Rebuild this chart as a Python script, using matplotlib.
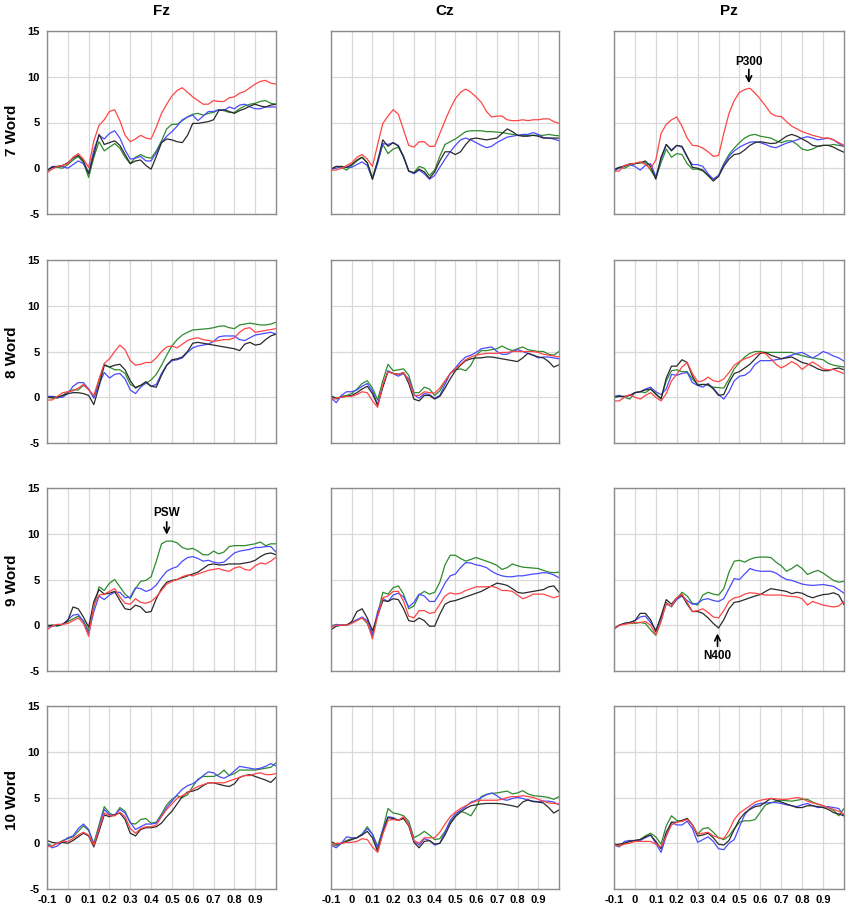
import matplotlib
matplotlib.use('Agg')
import matplotlib.pyplot as plt

plt.rcParams['font.family'] = ['Liberation Sans', 'DejaVu Sans']

# ---------------- data ----------------
times = [-0.1, -0.075, -0.05, -0.025, 0.0, 0.025, 0.05, 0.075, 0.1, 0.125,
         0.15, 0.175, 0.2, 0.225, 0.25, 0.275, 0.3, 0.325, 0.35, 0.375,
         0.4, 0.425, 0.45, 0.475, 0.5, 0.525, 0.55, 0.575, 0.6, 0.625,
         0.65, 0.675, 0.7, 0.725, 0.75, 0.775, 0.8, 0.825, 0.85, 0.875,
         0.9, 0.925, 0.95, 0.975, 1.0]

electrodes = ['Fz', 'Cz', 'Pz']
conditions = ['7 Word', '8 Word', '9 Word', '10 Word']
x_ticks = [-0.1, 0, 0.1, 0.2, 0.3, 0.4, 0.5, 0.6, 0.7, 0.8, 0.9]
x_tick_labels = ['-0.1', '0', '0.1', '0.2', '0.3', '0.4', '0.5', '0.6', '0.7', '0.8', '0.9']
y_ticks = [-5, 0, 5, 10, 15]

# ---- 7 Word ----
fz7_red = [-0.5, -0.1, 0.2, 0.3, 0.5, 1.2, 1.6, 1.0, 0.1, 3.0, 4.7, 5.3, 6.2, 6.4, 5.2, 3.6, 2.9, 3.2, 3.6, 3.3, 3.2, 4.5, 6.0, 7.0, 7.9, 8.5, 8.8, 8.3, 7.8, 7.4, 7.0, 7.0, 7.4, 7.3, 7.3, 7.7, 7.8, 8.2, 8.4, 8.8, 9.2, 9.5, 9.6, 9.3, 9.2]
fz7_blue = [-0.3, 0.2, 0.2, 0.2, 0.0, 0.4, 0.8, 0.5, -0.5, 2.0, 3.6, 3.2, 3.8, 4.1, 3.3, 2.0, 1.0, 1.1, 1.3, 0.8, 0.8, 1.7, 2.8, 3.5, 4.0, 4.6, 5.3, 5.6, 5.8, 5.2, 5.7, 6.2, 6.2, 6.4, 6.3, 6.7, 6.5, 6.9, 7.0, 6.7, 6.5, 6.5, 6.7, 6.7, 6.7]
fz7_green = [-0.3, 0.1, 0.1, 0.0, 0.4, 0.9, 1.3, 0.6, -1.0, 1.2, 2.9, 1.9, 2.3, 2.7, 2.2, 1.2, 0.5, 1.2, 1.5, 1.2, 1.1, 1.9, 3.0, 4.3, 4.8, 4.8, 5.2, 5.6, 5.9, 6.0, 5.8, 6.0, 6.1, 6.4, 6.3, 6.1, 6.1, 6.5, 6.8, 7.0, 7.1, 7.3, 7.4, 7.1, 7.0]
fz7_black = [-0.2, 0.1, 0.2, 0.3, 0.6, 1.1, 1.4, 0.8, -0.6, 1.5, 3.7, 2.6, 2.8, 3.0, 2.5, 1.5, 0.5, 0.8, 0.9, 0.3, -0.1, 1.3, 2.8, 3.2, 3.1, 2.9, 2.8, 3.6, 4.9, 4.9, 5.0, 5.1, 5.3, 6.3, 6.4, 6.2, 6.0, 6.3, 6.5, 6.8, 7.0, 6.8, 6.7, 6.9, 7.0]

cz7_red = [-0.2, -0.2, 0.0, 0.3, 0.6, 1.2, 1.5, 1.0, 0.2, 2.6, 4.9, 5.7, 6.4, 5.9, 4.2, 2.5, 2.3, 2.9, 2.9, 2.4, 2.4, 3.8, 5.2, 6.5, 7.6, 8.3, 8.65, 8.3, 7.8, 7.2, 6.2, 5.6, 5.7, 5.7, 5.3, 5.2, 5.2, 5.3, 5.2, 5.3, 5.3, 5.4, 5.4, 5.1, 4.9]
cz7_blue = [-0.1, 0.0, 0.2, 0.1, 0.1, 0.4, 0.7, 0.3, -1.2, 0.5, 2.7, 2.6, 2.8, 2.5, 1.3, -0.3, -0.6, -0.2, -0.6, -1.2, -0.8, 0.1, 1.0, 1.8, 2.5, 3.1, 3.3, 3.1, 2.8, 2.5, 2.25, 2.4, 2.8, 3.1, 3.4, 3.5, 3.6, 3.7, 3.7, 3.9, 3.7, 3.35, 3.3, 3.2, 3.0]
cz7_green = [-0.1, 0.2, 0.1, -0.2, 0.3, 0.8, 1.2, 0.6, -1.0, 0.8, 2.6, 1.6, 2.1, 2.3, 1.3, -0.3, -0.5, 0.2, 0.0, -0.8, -0.2, 1.3, 2.6, 2.9, 3.2, 3.6, 4.0, 4.1, 4.1, 4.1, 4.0, 4.0, 3.95, 3.9, 3.8, 3.7, 3.6, 3.6, 3.6, 3.6, 3.6, 3.6, 3.7, 3.6, 3.55]
cz7_black = [-0.1, 0.2, 0.2, 0.1, 0.4, 0.9, 1.2, 0.6, -1.2, 0.8, 3.1, 2.4, 2.8, 2.4, 1.2, -0.3, -0.5, -0.1, -0.4, -1.1, -0.4, 0.8, 1.8, 1.8, 1.5, 1.8, 2.6, 3.2, 3.3, 3.2, 3.1, 3.2, 3.3, 3.8, 4.3, 4.0, 3.6, 3.5, 3.5, 3.6, 3.5, 3.3, 3.3, 3.3, 3.3]

pz7_red = [-0.35, -0.3, 0.3, 0.45, 0.55, 0.7, 0.4, -0.05, 0.9, 3.8, 4.8, 5.3, 5.6, 4.6, 3.3, 2.5, 2.45, 2.2, 1.8, 1.3, 1.4, 3.8, 6.0, 7.4, 8.3, 8.6, 8.75, 8.2, 7.55, 6.8, 6.0, 5.7, 5.65, 5.1, 4.6, 4.3, 4.0, 3.8, 3.6, 3.45, 3.3, 3.3, 3.1, 2.8, 2.5]
pz7_blue = [-0.3, 0.0, 0.3, 0.4, 0.2, -0.2, 0.3, 0.5, -0.9, 1.0, 2.6, 2.0, 2.5, 2.3, 1.2, 0.4, 0.4, 0.2, -0.6, -1.2, -0.8, 0.4, 1.3, 1.9, 2.3, 2.6, 2.85, 2.9, 2.8, 2.6, 2.35, 2.25, 2.5, 2.75, 2.9, 3.1, 3.3, 3.45, 3.3, 3.1, 3.2, 3.3, 3.1, 2.7, 2.4]
pz7_green = [-0.1, 0.1, 0.0, 0.3, 0.5, 0.6, 0.6, -0.2, -1.1, 0.6, 2.1, 1.2, 1.6, 1.5, 0.5, -0.1, -0.1, -0.3, -0.8, -1.2, -0.8, 0.5, 1.5, 2.2, 2.8, 3.3, 3.6, 3.7, 3.5, 3.4, 3.3, 3.0, 2.8, 3.0, 3.0, 2.6, 2.1, 1.95, 2.1, 2.4, 2.5, 2.5, 2.6, 2.5, 2.4]
pz7_black = [-0.2, 0.1, 0.2, 0.5, 0.5, 0.6, 0.8, 0.2, -1.2, 1.2, 2.6, 1.9, 2.5, 2.4, 1.3, 0.1, 0.0, -0.2, -0.8, -1.4, -0.9, 0.2, 1.0, 1.5, 1.6, 2.0, 2.5, 2.8, 2.9, 2.8, 2.7, 2.75, 3.1, 3.5, 3.7, 3.5, 3.2, 2.9, 2.5, 2.4, 2.5, 2.5, 2.3, 2.0, 1.75]

# ---- 8 Word ----
fz8_red = [-0.3, -0.3, 0.1, 0.5, 0.6, 0.7, 1.0, 1.4, 0.8, 0.2, 2.0, 3.7, 4.2, 5.0, 5.7, 5.2, 4.0, 3.5, 3.6, 3.8, 3.8, 4.3, 5.0, 5.5, 5.6, 5.4, 5.8, 6.2, 6.4, 6.5, 6.3, 6.2, 6.1, 6.2, 6.3, 6.3, 6.5, 7.1, 7.5, 7.6, 7.1, 7.2, 7.3, 7.4, 7.5]
fz8_blue = [0.1, 0.1, 0.0, 0.0, 0.4, 1.2, 1.6, 1.6, 0.9, -0.1, 1.4, 2.7, 2.1, 2.5, 2.6, 2.0, 0.8, 0.4, 1.1, 1.6, 1.2, 1.4, 2.6, 3.5, 4.0, 4.1, 4.3, 4.9, 5.4, 5.6, 5.7, 5.8, 6.1, 6.6, 6.7, 6.7, 6.7, 6.3, 6.2, 6.5, 6.8, 6.9, 7.0, 7.1, 6.9]
fz8_green = [0.0, -0.1, -0.1, 0.2, 0.6, 0.8, 0.8, 1.3, 0.9, 0.0, 1.8, 3.6, 3.3, 3.0, 3.0, 2.6, 1.4, 1.1, 1.3, 1.5, 1.9, 2.5, 3.5, 4.6, 5.6, 6.3, 6.8, 7.1, 7.35, 7.4, 7.45, 7.5, 7.6, 7.75, 7.8, 7.6, 7.5, 7.9, 8.0, 8.1, 8.0, 7.9, 7.9, 8.0, 8.2]
fz8_black = [0.0, 0.0, 0.0, 0.2, 0.4, 0.5, 0.5, 0.4, 0.2, -0.8, 1.2, 3.5, 3.3, 3.5, 3.6, 3.0, 1.8, 1.0, 1.3, 1.7, 1.2, 1.1, 2.4, 3.5, 4.1, 4.2, 4.4, 5.0, 5.9, 6.0, 5.9, 5.8, 5.7, 5.6, 5.5, 5.4, 5.3, 5.1, 5.8, 6.0, 5.7, 5.8, 6.3, 6.7, 6.9]

cz8_red = [-0.35, -0.1, 0.0, 0.1, 0.1, 0.3, 0.6, 0.5, -0.4, -1.1, 1.4, 2.8, 2.6, 2.5, 2.7, 1.8, 0.2, 0.2, 0.6, 0.5, 0.45, 1.0, 1.8, 2.6, 3.1, 3.6, 4.1, 4.4, 4.6, 4.7, 4.8, 4.8, 4.8, 4.9, 4.9, 5.0, 5.0, 5.0, 5.0, 5.0, 4.9, 4.7, 4.6, 4.5, 4.4]
cz8_blue = [0.0, -0.6, 0.2, 0.6, 0.6, 0.8, 1.2, 1.5, 0.7, -0.8, 1.2, 2.9, 2.6, 2.3, 2.6, 2.0, 0.3, -0.1, 0.4, 0.3, -0.1, 0.2, 1.4, 2.6, 3.2, 3.9, 4.4, 4.6, 4.9, 5.3, 5.4, 5.5, 5.0, 4.7, 4.7, 5.0, 5.2, 5.0, 4.8, 4.6, 4.3, 4.4, 4.4, 4.3, 4.2]
cz8_green = [0.2, -0.2, 0.1, 0.2, 0.4, 0.9, 1.5, 1.8, 1.0, -0.3, 1.8, 3.6, 2.9, 3.0, 3.1, 2.4, 0.5, 0.5, 1.1, 0.9, 0.2, 0.7, 1.7, 2.6, 3.0, 3.1, 2.9, 3.5, 4.6, 5.1, 5.1, 5.2, 5.3, 5.6, 5.3, 5.1, 5.3, 5.5, 5.2, 5.1, 5.0, 5.0, 4.7, 4.6, 5.0]
cz8_black = [0.1, -0.1, 0.0, 0.1, 0.2, 0.5, 0.9, 1.2, 0.4, -0.9, 1.1, 2.8, 2.6, 2.5, 2.7, 1.5, -0.2, -0.4, 0.2, 0.2, -0.2, 0.1, 1.0, 2.0, 2.9, 3.5, 4.0, 4.2, 4.3, 4.3, 4.4, 4.4, 4.3, 4.2, 4.1, 4.0, 3.9, 4.3, 4.8, 4.6, 4.4, 4.3, 3.9, 3.3, 3.55]

pz8_red = [-0.4, -0.4, 0.0, 0.3, 0.0, -0.2, 0.2, 0.5, 0.0, -0.4, 0.4, 1.8, 2.5, 3.3, 3.8, 2.6, 1.7, 1.8, 2.2, 1.8, 1.7, 2.0, 2.7, 3.5, 3.9, 4.2, 4.4, 4.7, 4.9, 4.75, 4.2, 3.6, 3.2, 3.5, 3.9, 3.6, 3.05, 3.5, 3.85, 3.5, 3.1, 3.0, 3.05, 2.8, 2.6]
pz8_blue = [0.1, 0.2, 0.0, 0.2, 0.5, 0.6, 0.9, 1.1, 0.6, 0.3, 0.9, 2.5, 2.4, 2.6, 2.7, 1.6, 1.3, 1.1, 1.5, 1.0, 0.3, -0.2, 0.6, 1.8, 2.3, 2.4, 2.8, 3.6, 4.0, 4.0, 4.0, 4.1, 4.2, 4.4, 4.6, 4.8, 4.9, 4.6, 4.3, 4.6, 5.0, 4.8, 4.5, 4.3, 3.95]
pz8_green = [0.0, 0.1, 0.0, -0.2, 0.5, 0.6, 0.5, 0.9, 0.3, -0.1, 1.8, 2.9, 3.0, 2.8, 2.8, 2.0, 1.4, 1.4, 1.3, 1.1, 1.05, 1.0, 2.0, 3.1, 3.8, 4.4, 4.8, 5.0, 5.0, 4.9, 4.9, 4.9, 4.9, 4.9, 4.9, 4.7, 4.55, 4.4, 4.3, 4.2, 4.1, 3.7, 3.5, 3.4, 3.3]
pz8_black = [0.0, 0.1, 0.1, 0.2, 0.5, 0.6, 0.8, 0.9, 0.4, -0.2, 2.1, 3.4, 3.4, 4.1, 3.8, 2.3, 1.3, 1.4, 1.4, 0.9, 0.2, 0.3, 1.6, 2.6, 2.8, 3.2, 3.6, 4.2, 4.8, 4.9, 4.6, 4.4, 4.2, 4.3, 4.4, 4.1, 3.8, 3.65, 3.4, 3.1, 2.9, 2.9, 3.1, 3.2, 3.0]

# ---- 9 Word ----
fz9_red = [-0.5, -0.1, 0.1, 0.1, 0.2, 0.5, 0.8, 0.2, -1.2, 2.2, 3.3, 3.4, 3.7, 4.0, 3.1, 2.4, 2.3, 2.9, 2.5, 2.4, 2.6, 3.1, 3.8, 4.5, 4.8, 5.0, 5.3, 5.5, 5.4, 5.6, 5.8, 6.0, 6.1, 6.2, 6.0, 5.9, 6.25, 6.4, 6.1, 6.0, 6.5, 6.8, 6.7, 7.0, 7.45]
fz9_blue = [-0.2, -0.1, 0.0, 0.1, 0.6, 1.1, 1.2, 0.4, -0.9, 1.5, 3.2, 2.8, 3.3, 3.6, 3.6, 3.0, 3.1, 4.1, 4.0, 3.7, 3.9, 4.4, 5.2, 5.9, 6.2, 6.4, 7.0, 7.4, 7.5, 7.3, 7.0, 7.1, 6.9, 6.8, 6.9, 7.4, 7.9, 8.1, 8.2, 8.3, 8.5, 8.5, 8.6, 8.6, 8.0]
fz9_green = [0.0, 0.0, -0.1, 0.1, 0.4, 0.7, 1.0, 0.5, -0.6, 2.0, 4.2, 3.8, 4.6, 5.0, 4.2, 3.4, 2.9, 4.0, 4.8, 4.9, 5.3, 7.0, 8.9, 9.2, 9.2, 9.0, 8.5, 8.3, 8.4, 8.1, 7.7, 7.7, 8.1, 7.8, 8.0, 8.6, 8.7, 8.7, 8.7, 8.8, 8.9, 9.1, 8.7, 8.9, 8.9]
fz9_black = [-0.1, 0.0, 0.0, 0.1, 0.5, 2.0, 1.8, 0.9, -0.2, 2.6, 3.9, 3.4, 3.5, 3.7, 2.7, 1.8, 1.7, 2.2, 2.0, 1.4, 1.5, 2.9, 4.0, 4.7, 4.9, 5.0, 5.2, 5.4, 5.6, 5.8, 6.2, 6.6, 6.7, 6.6, 6.6, 6.7, 6.7, 6.7, 6.8, 6.9, 7.1, 7.5, 7.8, 7.9, 7.7]

cz9_red = [-0.2, 0.0, 0.0, 0.0, 0.2, 0.5, 0.8, 0.3, -1.5, 1.0, 3.0, 3.2, 3.7, 3.7, 2.6, 1.0, 0.8, 1.6, 1.6, 1.3, 1.4, 2.3, 3.2, 3.55, 3.4, 3.5, 3.8, 4.0, 4.2, 4.2, 4.2, 4.25, 4.1, 3.8, 3.8, 3.7, 3.3, 2.9, 3.1, 3.4, 3.4, 3.4, 3.2, 3.0, 3.2]
cz9_blue = [-0.2, 0.1, 0.0, 0.0, 0.3, 0.6, 0.9, 0.5, -1.0, 1.5, 2.9, 2.6, 3.3, 3.5, 3.1, 2.0, 2.5, 3.4, 3.2, 2.6, 2.6, 3.5, 4.6, 5.4, 5.6, 6.3, 6.85, 6.8, 6.6, 6.5, 6.3, 5.9, 5.6, 5.4, 5.3, 5.3, 5.4, 5.4, 5.5, 5.6, 5.65, 5.75, 5.7, 5.5, 5.2]
cz9_green = [0.0, 0.0, 0.0, 0.0, 0.3, 0.6, 0.8, 0.2, -1.2, 1.2, 3.6, 3.4, 4.1, 4.3, 3.4, 1.8, 2.1, 3.3, 3.7, 3.4, 3.6, 4.7, 6.6, 7.65, 7.65, 7.3, 7.0, 7.2, 7.4, 7.2, 7.0, 6.8, 6.55, 6.1, 6.3, 6.7, 6.5, 6.35, 6.3, 6.25, 6.2, 6.0, 5.8, 5.75, 5.8]
cz9_black = [-0.5, -0.1, 0.0, 0.0, 0.4, 1.5, 1.8, 0.8, -0.6, 1.0, 2.7, 2.6, 2.9, 2.8, 1.8, 0.5, 0.4, 0.8, 0.5, -0.1, -0.1, 1.2, 2.3, 2.6, 2.7, 2.9, 3.1, 3.3, 3.5, 3.7, 4.0, 4.3, 4.6, 4.5, 4.35, 4.0, 3.6, 3.5, 3.6, 3.7, 3.8, 3.9, 4.2, 4.3, 3.6]

pz9_red = [-0.4, 0.0, 0.1, 0.2, 0.3, 0.3, 0.4, 0.0, -1.0, 0.4, 2.4, 2.1, 3.0, 3.4, 2.5, 1.5, 1.6, 1.8, 1.4, 0.9, 0.8, 1.6, 2.6, 3.0, 3.1, 3.4, 3.55, 3.5, 3.4, 3.3, 3.3, 3.3, 3.3, 3.2, 3.15, 3.1, 2.9, 2.2, 2.6, 2.4, 2.2, 2.1, 2.0, 2.1, 2.6]
pz9_blue = [-0.4, 0.0, 0.2, 0.3, 0.5, 0.9, 1.0, 0.3, -0.5, 0.8, 2.3, 2.1, 2.8, 3.2, 2.7, 2.3, 2.4, 2.8, 2.9, 2.7, 2.6, 2.9, 4.0, 5.1, 5.0, 5.6, 6.2, 6.0, 5.9, 5.9, 5.9, 5.7, 5.3, 5.0, 4.9, 4.7, 4.5, 4.4, 4.35, 4.4, 4.45, 4.35, 4.25, 3.9, 3.5]
pz9_green = [-0.3, 0.0, 0.2, 0.2, 0.2, 0.3, 0.2, -0.5, -1.1, 0.5, 2.5, 2.0, 2.9, 3.6, 3.2, 2.4, 2.2, 3.3, 3.6, 3.4, 3.3, 4.0, 5.8, 7.0, 7.1, 6.9, 7.2, 7.4, 7.45, 7.45, 7.4, 6.9, 6.5, 5.9, 6.2, 6.6, 6.2, 5.55, 5.8, 6.0, 5.7, 5.3, 4.9, 4.7, 4.8]
pz9_black = [-0.4, 0.0, 0.2, 0.3, 0.5, 1.3, 1.3, 0.6, -0.7, 1.0, 2.8, 2.3, 3.0, 3.3, 2.3, 1.5, 1.5, 1.3, 0.8, 0.2, -0.3, 0.6, 1.8, 2.5, 2.6, 2.8, 3.0, 3.2, 3.35, 3.7, 4.0, 3.9, 3.8, 3.7, 3.45, 3.6, 3.5, 3.2, 3.0, 3.2, 3.35, 3.4, 3.55, 3.3, 2.25]

# ---- 10 Word ----
fz10_red = [-0.4, -0.3, 0.0, 0.2, 0.2, 0.5, 0.9, 1.2, 0.9, -0.2, 1.6, 3.3, 3.0, 3.0, 3.4, 2.9, 1.6, 1.1, 1.6, 1.8, 1.8, 2.0, 2.9, 3.7, 4.3, 4.9, 5.2, 5.5, 5.9, 6.2, 6.4, 6.6, 6.6, 6.6, 6.6, 6.8, 7.0, 7.2, 7.4, 7.4, 7.6, 7.7, 7.5, 7.5, 7.6]
fz10_blue = [-0.1, -0.5, -0.3, 0.2, 0.6, 0.8, 1.6, 2.1, 1.5, -0.2, 1.8, 3.7, 3.1, 3.1, 3.7, 3.3, 2.3, 1.5, 1.8, 2.1, 2.1, 2.2, 3.0, 3.9, 4.6, 5.3, 5.9, 6.3, 6.5, 6.9, 7.4, 7.8, 7.7, 7.3, 7.1, 7.4, 7.9, 8.4, 8.3, 8.2, 8.1, 8.2, 8.4, 8.7, 8.45]
fz10_green = [0.0, -0.3, 0.0, 0.3, 0.5, 0.7, 1.3, 1.9, 1.4, 0.0, 2.0, 4.0, 3.3, 3.0, 3.9, 3.5, 2.2, 2.1, 2.6, 2.7, 2.2, 2.3, 3.2, 4.2, 4.8, 5.2, 5.0, 5.3, 6.2, 7.0, 7.3, 7.3, 7.3, 7.5, 8.0, 7.4, 7.6, 8.0, 8.0, 8.0, 8.0, 8.1, 8.2, 8.3, 8.8]
fz10_black = [0.3, 0.1, 0.0, 0.1, 0.0, 0.3, 0.7, 1.1, 0.8, -0.4, 1.3, 3.1, 2.9, 3.1, 3.3, 2.6, 1.1, 0.8, 1.5, 1.7, 1.7, 1.8, 2.2, 2.9, 3.5, 4.3, 5.1, 5.6, 5.7, 5.9, 6.3, 6.6, 6.6, 6.45, 6.3, 6.2, 6.5, 7.2, 7.4, 7.5, 7.3, 7.1, 6.9, 6.65, 7.2]

cz10_red = [-0.3, 0.0, 0.0, 0.1, 0.1, 0.2, 0.5, 0.4, -0.4, -1.0, 1.0, 2.5, 2.6, 2.5, 2.9, 2.0, 0.3, 0.0, 0.6, 0.6, 0.6, 1.2, 2.1, 2.9, 3.4, 3.8, 4.1, 4.4, 4.6, 4.7, 4.7, 4.7, 4.7, 4.8, 5.0, 5.1, 5.1, 5.2, 5.1, 5.0, 4.8, 4.6, 4.4, 4.35, 4.3]
cz10_blue = [-0.2, -0.5, 0.0, 0.7, 0.6, 0.6, 1.0, 1.6, 1.0, -0.6, 1.5, 2.9, 2.8, 2.5, 2.8, 2.1, 0.3, -0.2, 0.5, 0.3, -0.2, 0.0, 1.2, 2.5, 3.2, 3.6, 4.0, 4.5, 4.7, 5.0, 5.3, 5.5, 5.2, 4.8, 4.7, 4.9, 5.0, 4.9, 4.7, 4.6, 4.55, 4.6, 4.6, 4.5, 4.2]
cz10_green = [0.0, -0.3, 0.0, 0.3, 0.5, 0.6, 1.0, 1.8, 1.0, -0.3, 1.5, 3.8, 3.3, 3.2, 3.0, 2.4, 0.6, 0.9, 1.3, 0.9, 0.4, 0.5, 1.3, 2.3, 3.0, 3.5, 3.3, 3.0, 3.9, 5.1, 5.35, 5.45, 5.5, 5.6, 5.7, 5.4, 5.5, 5.75, 5.4, 5.2, 5.15, 5.1, 5.0, 4.8, 5.1]
cz10_black = [0.2, -0.1, 0.0, 0.2, 0.4, 0.6, 0.9, 1.3, 0.6, -0.9, 1.2, 2.8, 2.7, 2.5, 2.7, 1.9, 0.1, -0.5, 0.2, 0.3, -0.1, 0.0, 0.9, 2.1, 2.9, 3.4, 3.8, 4.1, 4.2, 4.3, 4.35, 4.35, 4.35, 4.3, 4.2, 4.1, 3.95, 4.5, 4.75, 4.55, 4.5, 4.4, 3.9, 3.3, 3.65]

pz10_red = [-0.2, -0.3, -0.1, 0.0, 0.2, 0.2, 0.2, 0.2, -0.1, -0.4, 0.8, 2.0, 2.3, 2.4, 2.6, 2.0, 1.0, 1.1, 1.2, 0.8, 0.6, 0.5, 1.4, 2.6, 3.3, 3.7, 4.1, 4.5, 4.7, 4.8, 4.9, 4.85, 4.8, 4.8, 4.9, 5.0, 4.9, 4.6, 4.4, 4.3, 4.1, 3.9, 3.7, 3.5, 3.15]
pz10_blue = [-0.2, -0.4, 0.2, 0.3, 0.3, 0.3, 0.6, 0.9, 0.0, -1.0, 0.8, 2.3, 2.0, 2.0, 2.4, 1.6, 0.1, 0.4, 0.7, 0.2, -0.6, -0.7, 0.0, 0.4, 1.8, 3.1, 3.8, 4.2, 4.35, 4.4, 4.45, 4.45, 4.35, 4.2, 4.1, 4.0, 4.2, 4.35, 4.1, 3.9, 3.95, 4.0, 3.9, 3.8, 3.0]
pz10_green = [0.0, -0.3, 0.0, 0.2, 0.3, 0.4, 0.8, 1.1, 0.7, -0.1, 1.9, 3.0, 2.5, 2.4, 2.7, 2.0, 1.0, 1.6, 1.7, 1.2, 0.6, 0.4, 0.8, 1.6, 2.3, 2.45, 2.45, 2.6, 3.4, 4.2, 4.4, 4.6, 4.7, 4.65, 4.6, 4.7, 4.8, 4.8, 4.5, 4.25, 4.1, 3.9, 3.6, 3.0, 3.8]
pz10_black = [-0.2, -0.1, 0.0, 0.2, 0.3, 0.4, 0.7, 0.9, 0.2, -0.6, 1.2, 2.3, 2.3, 2.5, 2.7, 2.0, 0.8, 0.9, 1.1, 0.6, -0.1, -0.2, 0.3, 1.5, 2.6, 3.3, 3.7, 4.0, 4.1, 4.5, 4.9, 4.7, 4.5, 4.3, 4.1, 3.9, 3.9, 4.1, 4.1, 4.0, 3.9, 3.7, 3.35, 3.2, 3.0]

# panel grid: rows = conditions, columns = electrodes; each: (green, blue, black, red)
panels = [
    [(fz7_green, fz7_blue, fz7_black, fz7_red), (cz7_green, cz7_blue, cz7_black, cz7_red), (pz7_green, pz7_blue, pz7_black, pz7_red)],
    [(fz8_green, fz8_blue, fz8_black, fz8_red), (cz8_green, cz8_blue, cz8_black, cz8_red), (pz8_green, pz8_blue, pz8_black, pz8_red)],
    [(fz9_green, fz9_blue, fz9_black, fz9_red), (cz9_green, cz9_blue, cz9_black, cz9_red), (pz9_green, pz9_blue, pz9_black, pz9_red)],
    [(fz10_green, fz10_blue, fz10_black, fz10_red), (cz10_green, cz10_blue, cz10_black, cz10_red), (pz10_green, pz10_blue, pz10_black, pz10_red)],
]
line_colors = ['#2e8b2e', '#4a4aff', '#2a2a2a', '#ff4545']

# ---------------- figure ----------------
W, H = 850, 907
fig = plt.figure(figsize=(W / 100, H / 100), dpi=100)
fig.patch.set_facecolor('white')

col_px = [(47, 229), (331, 228), (614, 230)]
row_px = [(31, 214), (260, 443), (488, 671), (706, 889)]
row_label_y = [130, 352, 580, 800]

axes = {}
for r in range(4):
    for c in range(3):
        left, w = col_px[c]
        top, bot = row_px[r]
        ax = fig.add_axes([left / W, 1 - bot / H, w / W, (bot - top) / H])
        axes[(r, c)] = ax
        for vals, col in zip(panels[r][c], line_colors):
            n = min(len(vals), len(times))
            ax.plot(times[:n], vals[:n], color=col, lw=0.9)
        ax.set_xlim(-0.1, 1.0)
        ax.set_ylim(-5, 15)
        ax.set_xticks(x_ticks)
        ax.set_yticks(y_ticks)
        ax.grid(True, color='#d9d9d9', lw=0.9)
        ax.set_axisbelow(True)
        for sp in ax.spines.values():
            sp.set_color('#8c8c8c')
            sp.set_linewidth(1.0)
        ax.tick_params(length=0, pad=5.5)
        if c == 0:
            ax.set_yticklabels([str(v) for v in y_ticks], fontsize=8, fontweight='bold')
        else:
            ax.tick_params(labelleft=False)
        if r == 3:
            ax.set_xticklabels(x_tick_labels, fontsize=8, fontweight='bold')
            ax.tick_params(axis='x', pad=4.5)
        else:
            ax.tick_params(labelbottom=False)

# column titles
for c, name in enumerate(electrodes):
    left, w = col_px[c]
    fig.text((left + w / 2) / W, 1 - 11 / H, name, ha='center', va='center',
             fontsize=11, fontweight='bold')

# row labels
for r, name in enumerate(conditions):
    fig.text(12 / W, 1 - row_label_y[r] / H, name, rotation=90, ha='center',
             va='center', fontsize=11, fontweight='bold')

# annotations
def mark(ax, x, y_text, y_from, y_to, label):
    ax.annotate('', xy=(x, y_to), xytext=(x, y_from),
                arrowprops=dict(arrowstyle='->', lw=1.2, color='black',
                                shrinkA=0, shrinkB=0))
    ax.text(x, y_text, label, ha='center', va='center', fontsize=8.5,
            fontweight='bold')

mark(axes[(0, 2)], 0.545, 11.6, 10.8, 9.3, 'P300')
mark(axes[(2, 0)], 0.475, 12.3, 11.3, 9.9, 'PSW')
mark(axes[(2, 2)], 0.395, -3.4, -2.3, -0.9, 'N400')

fig.savefig('out.png', dpi=100, facecolor='white')
